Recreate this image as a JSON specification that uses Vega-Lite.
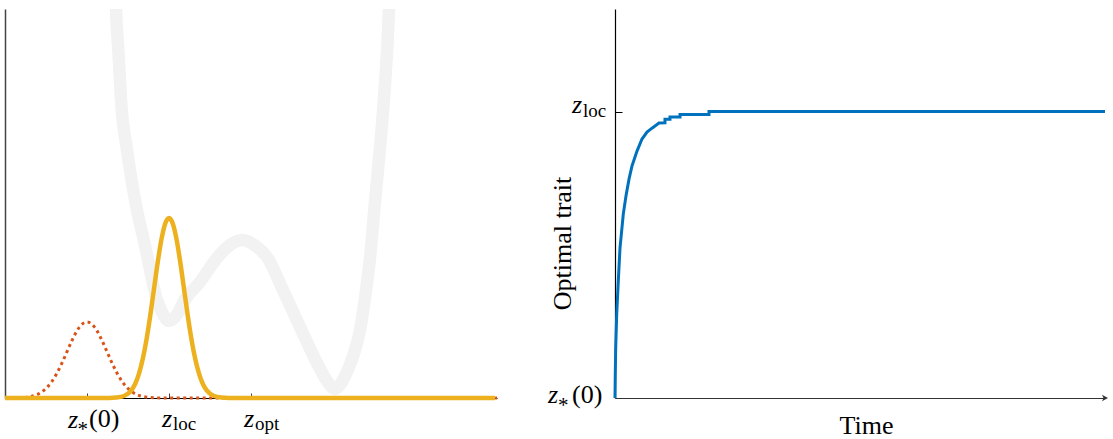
{
  "$schema": "https://vega.github.io/schema/vega-lite/v6.json",
  "padding": {"left": -4, "top": 9, "right": 0, "bottom": 0},
  "bounds": "flush",
  "background": "white",
  "config": {"view": {"stroke": null}, "font": "Liberation Serif", "concat": {"spacing": 118}},
  "datasets": {
    "grey": [
      {"z": 2.683, "h": 420}, {"z": 2.707, "h": 389}, {"z": 2.768, "h": 345}, {"z": 2.829, "h": 298},
      {"z": 2.976, "h": 248}, {"z": 3.171, "h": 198}, {"z": 3.439, "h": 148}, {"z": 3.707, "h": 98},
      {"z": 3.829, "h": 86}, {"z": 3.927, "h": 79}, {"z": 4.0, "h": 77}, {"z": 4.098, "h": 79},
      {"z": 4.22, "h": 85}, {"z": 4.341, "h": 95}, {"z": 4.756, "h": 116}, {"z": 5.171, "h": 140},
      {"z": 5.488, "h": 153}, {"z": 5.78, "h": 158}, {"z": 6.146, "h": 151}, {"z": 6.39, "h": 141},
      {"z": 6.78, "h": 108}, {"z": 7.195, "h": 71}, {"z": 7.61, "h": 35}, {"z": 7.854, "h": 17},
      {"z": 8.049, "h": 9}, {"z": 8.244, "h": 18}, {"z": 8.39, "h": 31}, {"z": 8.537, "h": 48},
      {"z": 8.659, "h": 68}, {"z": 8.78, "h": 100}, {"z": 8.902, "h": 140}, {"z": 9.024, "h": 196},
      {"z": 9.146, "h": 250}, {"z": 9.244, "h": 300}, {"z": 9.366, "h": 389}, {"z": 9.39, "h": 420}
    ],
    "yellow": [
      {"z": 0, "h": 0}, {"z": 2.536, "h": 0}, {"z": 2.719, "h": 0.4}, {"z": 2.902, "h": 2.0},
      {"z": 3.085, "h": 7.9}, {"z": 3.1765, "h": 14.3}, {"z": 3.268, "h": 24.4}, {"z": 3.3595, "h": 38.9},
      {"z": 3.451, "h": 58.4}, {"z": 3.5425, "h": 82.4}, {"z": 3.634, "h": 109.2}, {"z": 3.7255, "h": 135.9},
      {"z": 3.817, "h": 158.9}, {"z": 3.9085, "h": 174.5}, {"z": 4.0, "h": 180}, {"z": 4.0915, "h": 174.5},
      {"z": 4.183, "h": 158.9}, {"z": 4.2745, "h": 135.9}, {"z": 4.366, "h": 109.2}, {"z": 4.4575, "h": 82.4},
      {"z": 4.549, "h": 58.4}, {"z": 4.6405, "h": 38.9}, {"z": 4.732, "h": 24.4}, {"z": 4.8235, "h": 14.3},
      {"z": 4.915, "h": 7.9}, {"z": 5.098, "h": 2.0}, {"z": 5.281, "h": 0.4}, {"z": 5.464, "h": 0},
      {"z": 11.95, "h": 0}
    ],
    "red": [
      {"z": 0, "h": 0}, {"z": 0.285, "h": 0.17}, {"z": 0.53, "h": 0.84}, {"z": 0.775, "h": 3.3},
      {"z": 0.8975, "h": 6.0}, {"z": 1.02, "h": 10.3}, {"z": 1.1425, "h": 16.4}, {"z": 1.265, "h": 24.7},
      {"z": 1.3875, "h": 34.8}, {"z": 1.51, "h": 46.1}, {"z": 1.6325, "h": 57.4}, {"z": 1.755, "h": 67.1},
      {"z": 1.8775, "h": 73.7}, {"z": 2.0, "h": 76}, {"z": 2.1225, "h": 73.7}, {"z": 2.245, "h": 67.1},
      {"z": 2.3675, "h": 57.4}, {"z": 2.49, "h": 46.1}, {"z": 2.6125, "h": 34.8}, {"z": 2.735, "h": 24.7},
      {"z": 2.8575, "h": 16.4}, {"z": 2.98, "h": 10.3}, {"z": 3.1025, "h": 6.0}, {"z": 3.225, "h": 3.3},
      {"z": 3.47, "h": 0.84}, {"z": 3.715, "h": 0.17}, {"z": 3.96, "h": 0}, {"z": 12, "h": 0}
    ],
    "blue": [
      {"i": 0, "t": 0, "v": 0}, {"i": 1, "t": 0.04, "v": 0.059}, {"i": 2, "t": 0.14, "v": 0.1745},
      {"i": 3, "t": 0.35, "v": 0.293}, {"i": 4, "t": 0.67, "v": 0.408}, {"i": 5, "t": 1.02, "v": 0.5236},
      {"i": 6, "t": 1.69, "v": 0.642}, {"i": 7, "t": 2.24, "v": 0.705}, {"i": 8, "t": 2.86, "v": 0.764},
      {"i": 9, "t": 3.47, "v": 0.81}, {"i": 10, "t": 4.49, "v": 0.862}, {"i": 11, "t": 5.51, "v": 0.904},
      {"i": 12, "t": 6.53, "v": 0.9284}, {"i": 13, "t": 7.55, "v": 0.942}, {"i": 14, "t": 8.57, "v": 0.9546},
      {"i": 15, "t": 8.98, "v": 0.96}, {"i": 16, "t": 10.2, "v": 0.961}, {"i": 17, "t": 10.2, "v": 0.9728},
      {"i": 18, "t": 11.22, "v": 0.9728}, {"i": 19, "t": 11.22, "v": 0.9808}, {"i": 20, "t": 13.27, "v": 0.9808},
      {"i": 21, "t": 13.27, "v": 0.99}, {"i": 22, "t": 19.18, "v": 0.99}, {"i": 23, "t": 19.18, "v": 1.0},
      {"i": 24, "t": 100, "v": 1.0}
    ],
    "lticks": [
      {"z": 2, "h": 0, "name": "zstar", "sub": "*", "arg": "(0)"},
      {"z": 4, "h": 0, "name": "loc", "sub": "loc", "arg": ""},
      {"z": 6, "h": 0, "name": "opt", "sub": "opt", "arg": ""}
    ],
    "rticks": [
      {"t": 0, "v": 0, "name": "zstar", "sub": "*", "arg": "(0)"},
      {"t": 0, "v": 1, "name": "loc", "sub": "loc", "arg": ""}
    ]
  },
  "hconcat": [
    {
      "width": 492,
      "height": 389,
      "encoding": {
        "x": {"field": "z", "type": "quantitative",
          "scale": {"domain": [0, 12], "nice": false, "zero": false},
          "axis": {"values": [2, 4, 6], "labels": false, "tickSize": -5, "tickColor": "#444", "tickWidth": 1,
                   "domainColor": "#000", "domainWidth": 1.2, "title": null, "grid": false}},
        "y": {"field": "h", "type": "quantitative",
          "scale": {"domain": [0, 389], "nice": false},
          "axis": {"labels": false, "ticks": false, "title": null, "domainColor": "#444", "domainWidth": 1.5, "grid": false}}
      },
      "layer": [
        {"data": {"name": "grey"}, "mark": {"type": "line", "color": "#f2f2f2", "strokeWidth": 12.5, "interpolate": "monotone", "clip": true}},
        {"data": {"name": "red"}, "mark": {"type": "line", "color": "#D95319", "strokeWidth": 3, "strokeDash": [3, 3.5], "interpolate": "monotone"}},
        {"data": {"name": "yellow"}, "mark": {"type": "line", "color": "#EDB120", "strokeWidth": 4.5, "interpolate": "monotone"}},
        {"data": {"name": "lticks"}, "transform": [{"filter": "datum.name != 'zstar'"}],
         "mark": {"type": "text", "fontStyle": "italic", "fontSize": 26, "align": "left", "baseline": "alphabetic", "dx": -7, "dy": 29, "color": "#000"},
         "encoding": {"text": {"value": "z"}}},
        {"data": {"name": "lticks"}, "transform": [{"filter": "datum.name != 'zstar'"}],
         "mark": {"type": "text", "fontSize": 19, "align": "left", "baseline": "alphabetic", "dx": 4, "dy": 32, "color": "#000"},
         "encoding": {"text": {"field": "sub", "type": "nominal"}}},
        {"data": {"name": "lticks"}, "transform": [{"filter": "datum.name == 'zstar'"}],
         "mark": {"type": "text", "fontStyle": "italic", "fontSize": 26, "align": "left", "baseline": "alphabetic", "dx": -19, "dy": 29.5, "color": "#000"},
         "encoding": {"text": {"value": "z"}}},
        {"data": {"name": "lticks"}, "transform": [{"filter": "datum.name == 'zstar'"}],
         "mark": {"type": "text", "fontSize": 21, "align": "left", "baseline": "alphabetic", "dx": -9.5, "dy": 38, "color": "#000"},
         "encoding": {"text": {"field": "sub", "type": "nominal"}}},
        {"data": {"name": "lticks"}, "transform": [{"filter": "datum.name == 'zstar'"}],
         "mark": {"type": "text", "fontSize": 26, "align": "left", "baseline": "alphabetic", "dx": 2, "dy": 29, "color": "#000"},
         "encoding": {"text": {"field": "arg", "type": "nominal"}}}
      ]
    },
    {
      "width": 490,
      "height": 389,
      "encoding": {
        "x": {"field": "t", "type": "quantitative",
          "scale": {"domain": [0, 100], "nice": false, "zero": false},
          "axis": {"labels": false, "ticks": false, "grid": false, "domainColor": "#333", "domainWidth": 1.2,
                   "title": "Time", "titleFont": "Liberation Serif", "titleFontSize": 26, "titleFontWeight": "normal",
                   "titleColor": "#000", "titleX": 251, "titleY": 35, "titleAlign": "center", "titleBaseline": "alphabetic"}},
        "y": {"field": "v", "type": "quantitative",
          "scale": {"domain": [0, 1.358], "nice": false, "zero": false},
          "axis": {"values": [1], "labels": false, "tickSize": -7, "tickColor": "#000", "tickWidth": 1, "grid": false,
                   "domainColor": "#000", "domainWidth": 1.2,
                   "title": "Optimal trait", "titleFont": "Liberation Serif", "titleFontSize": 26, "titleFontWeight": "normal",
                   "titleColor": "#000", "titleX": -45, "titleY": 234, "titleAngle": -90, "titleAlign": "center", "titleBaseline": "alphabetic"}}
      },
      "layer": [
        {"data": {"name": "blue"}, "mark": {"type": "line", "color": "#0072BD", "strokeWidth": 3},
         "encoding": {"order": {"field": "i", "type": "quantitative"}}},
        {"data": {"values": [{"t": 100, "v": 0}]},
         "mark": {"type": "point", "shape": "M 0.6 0 L -0.6 -0.65 L -0.3 0 L -0.6 0.65 Z", "filled": true, "size": 100, "color": "#333", "opacity": 1}},
        {"data": {"name": "rticks"}, "transform": [{"filter": "datum.name == 'loc'"}],
         "mark": {"type": "text", "fontStyle": "italic", "fontSize": 26, "align": "left", "baseline": "alphabetic", "dx": -43, "dy": 1.5, "color": "#000"},
         "encoding": {"text": {"value": "z"}}},
        {"data": {"name": "rticks"}, "transform": [{"filter": "datum.name == 'loc'"}],
         "mark": {"type": "text", "fontSize": 19, "align": "left", "baseline": "alphabetic", "dx": -32, "dy": 5.5, "color": "#000"},
         "encoding": {"text": {"field": "sub", "type": "nominal"}}},
        {"data": {"name": "rticks"}, "transform": [{"filter": "datum.name == 'zstar'"}],
         "mark": {"type": "text", "fontStyle": "italic", "fontSize": 26, "align": "left", "baseline": "alphabetic", "dx": -67, "dy": 5, "color": "#000"},
         "encoding": {"text": {"value": "z"}}},
        {"data": {"name": "rticks"}, "transform": [{"filter": "datum.name == 'zstar'"}],
         "mark": {"type": "text", "fontSize": 21, "align": "left", "baseline": "alphabetic", "dx": -57, "dy": 14, "color": "#000"},
         "encoding": {"text": {"field": "sub", "type": "nominal"}}},
        {"data": {"name": "rticks"}, "transform": [{"filter": "datum.name == 'zstar'"}],
         "mark": {"type": "text", "fontSize": 26, "align": "left", "baseline": "alphabetic", "dx": -43, "dy": 5, "color": "#000"},
         "encoding": {"text": {"field": "arg", "type": "nominal"}}}
      ]
    }
  ]
}
